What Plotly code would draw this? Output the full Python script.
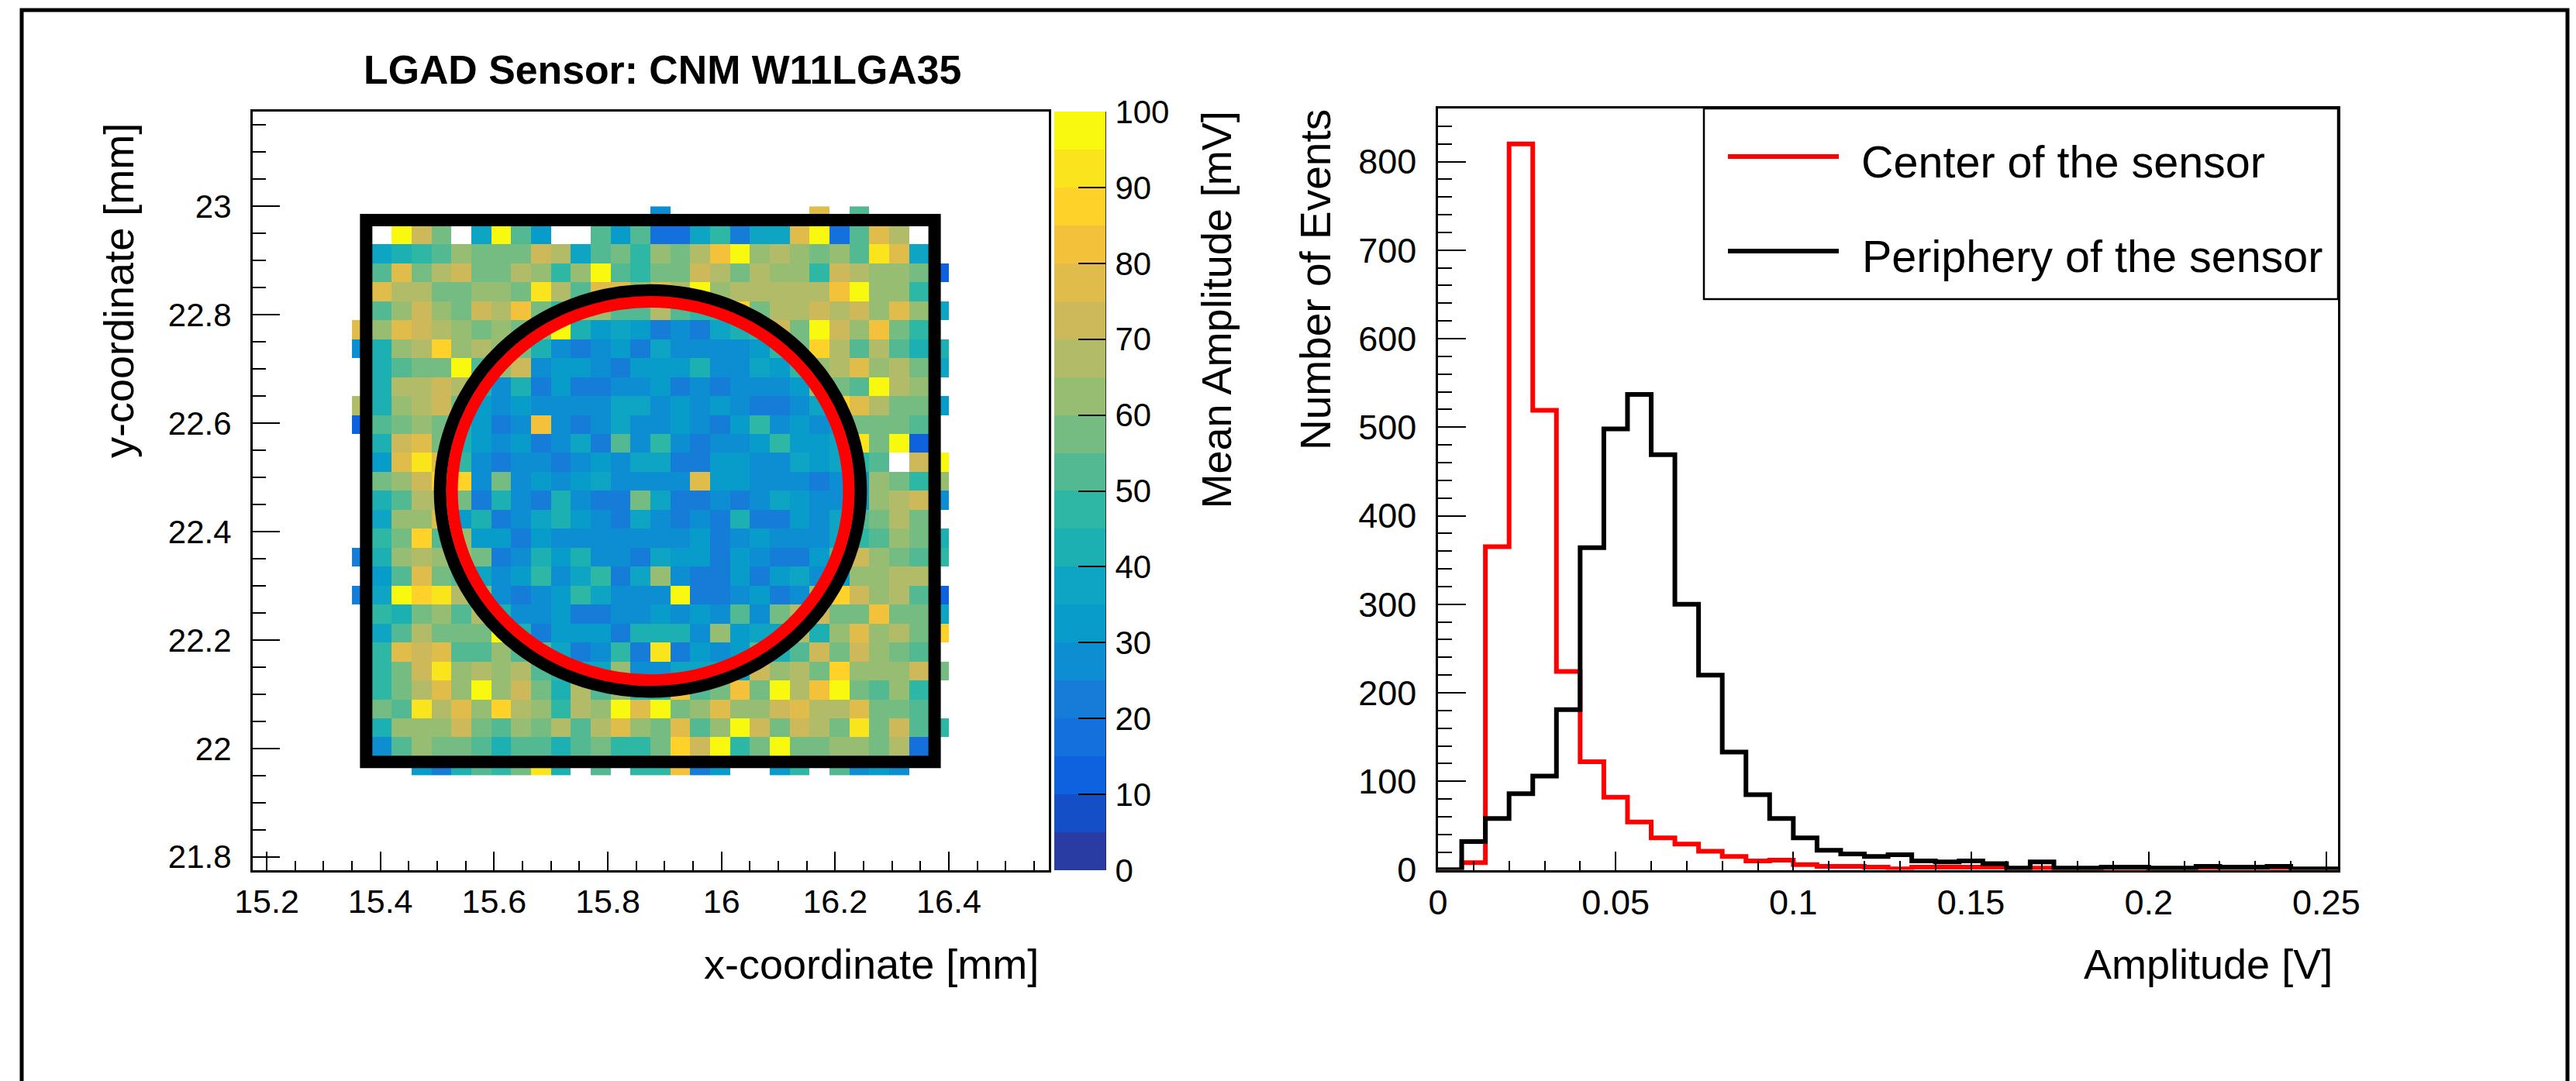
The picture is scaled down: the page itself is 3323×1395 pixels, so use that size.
import plotly.graph_objects as go

W, H = 3323, 1395
N = None

# ---- left panel data: mean amplitude [mV] per cell, top row first
X_EDGE_START, Y_EDGE_TOP, CELL = 15.35, 23.0, 0.035
R00 = [N,N,N,N,N,N,N,N,N,N,N,N,N,N,N,27,N,N,N,N,N,N,N,77,N,52,N,N,N,N]
R01 = [N,N,97,72,57,N,37,97,52,32,N,N,52,32,52,17,17,37,47,22,37,37,77,97,17,52,77,67,N,N]
R02 = [N,37,42,47,52,62,57,57,57,72,67,37,52,57,47,62,57,67,82,97,62,67,62,57,62,52,92,77,37,N]
R03 = [N,52,77,57,67,72,57,57,67,62,47,62,97,52,47,57,57,72,67,57,67,62,62,47,72,67,62,62,57,12]
R04 = [N,77,67,67,57,57,62,62,57,92,67,52,77,77,62,77,67,97,62,67,67,67,67,67,82,97,62,62,47,N]
R05 = [N,52,62,72,62,57,72,67,82,57,47,62,62,52,52,67,52,47,47,87,57,67,67,72,67,72,62,77,62,37]
R06 = [77,62,77,72,67,62,57,62,57,57,97,42,32,37,32,22,27,22,37,42,47,72,57,97,72,62,82,57,47,N]
R07 = [27,42,62,67,87,62,67,62,57,42,27,22,27,32,22,37,27,27,27,27,32,47,57,87,67,52,67,52,42,42]
R08 = [N,42,52,57,57,97,52,62,72,27,32,32,27,22,32,32,32,42,27,27,37,32,47,62,67,77,62,67,57,37]
R09 = [N,42,67,67,72,67,42,27,42,22,32,22,22,27,27,32,22,27,22,27,27,27,32,62,57,52,97,67,62,N]
R10 = [67,42,62,67,72,57,32,27,32,27,27,27,27,37,37,27,32,27,32,27,22,22,27,37,87,77,67,57,57,32]
R11 = [14,52,57,62,57,42,32,22,27,82,27,22,27,37,27,27,32,27,22,32,47,27,32,27,32,57,57,57,52,N]
R12 = [N,42,72,77,57,42,32,27,32,22,27,37,22,52,27,47,27,22,27,27,32,47,32,32,37,92,57,97,12,N]
R13 = [N,32,77,92,77,47,27,22,27,27,22,27,32,27,37,37,22,22,32,32,27,27,37,32,37,47,52,N,72,97]
R14 = [N,57,62,72,87,87,27,57,27,32,27,32,37,27,27,27,27,77,32,32,27,27,27,22,27,32,62,57,47,62]
R15 = [N,42,52,67,67,57,22,42,27,22,42,27,22,22,57,37,22,22,27,22,27,37,32,27,27,32,62,67,72,27]
R16 = [N,37,62,62,77,32,42,22,27,37,42,32,27,22,37,27,22,27,22,42,22,22,32,27,37,52,57,67,57,N]
R17 = [N,47,57,87,52,62,32,32,22,32,27,27,27,27,27,27,27,32,22,27,32,27,27,27,37,47,52,62,57,42]
R18 = [22,42,62,67,62,62,57,22,27,42,32,42,27,27,22,37,32,32,22,32,27,22,22,32,52,72,62,57,52,47]
R19 = [N,32,52,77,57,52,37,27,32,47,27,37,47,22,37,62,27,22,22,32,22,32,37,27,32,62,62,67,67,N]
R20 = [22,37,97,87,92,67,57,27,22,27,32,47,37,27,27,27,97,22,22,27,32,22,27,62,87,72,62,67,52,12]
R21 = [N,47,42,57,62,52,67,42,27,27,32,22,22,27,27,32,27,32,27,52,27,57,67,72,57,57,82,57,57,37]
R22 = [N,37,52,67,57,57,57,97,42,22,32,32,32,22,42,42,42,27,62,32,37,37,67,42,62,77,62,67,57,87]
R23 = [N,47,77,72,77,52,52,62,52,52,37,22,27,47,22,92,22,32,27,32,52,42,52,72,57,72,62,57,52,N]
R24 = [N,47,57,72,92,62,67,62,67,52,47,37,37,62,27,27,37,37,37,37,72,62,67,57,87,62,62,62,72,57]
R25 = [N,47,57,67,77,62,97,62,72,57,42,67,52,62,47,47,82,52,57,82,57,97,67,82,97,57,52,62,47,N]
R26 = [N,57,52,92,67,77,62,87,67,62,47,67,62,97,77,97,57,62,77,62,62,72,77,67,67,77,57,57,52,N]
R27 = [N,42,62,62,62,72,57,52,62,57,67,52,67,77,62,57,77,52,62,97,72,57,72,67,57,92,57,72,52,47]
R28 = [N,27,52,62,57,57,52,42,52,52,42,52,57,47,47,57,87,72,97,47,57,97,57,57,62,62,57,67,17,N]
R29 = [N,N,N,32,22,42,52,47,57,92,42,N,52,N,47,47,82,22,32,N,N,32,47,N,52,27,32,27,N,N]
AMPLITUDE_ROWS = [R00,R01,R02,R03,R04,R05,R06,R07,R08,R09,R10,R11,R12,R13,R14,
                  R15,R16,R17,R18,R19,R20,R21,R22,R23,R24,R25,R26,R27,R28,R29]
assert all(len(r) == 30 for r in AMPLITUDE_ROWS)

PALETTE = ["#283CA3","#154FC8","#0F62DD","#1370DC","#157DD7","#0D8ED2","#089CCB","#0EA5C4",
           "#1DB0B2","#2FB7A6","#52B992","#75BC82","#97BD73","#B2BC68","#CEB95A","#E0BC4A",
           "#F4C23A","#FFD22A","#FAE51C","#F9F90F"]

SQUARE_X, SQUARE_Y = (15.375, 16.375), (21.975, 22.975)
CIRCLE_CX, CIRCLE_CY = 15.875, 22.475
RADIUS_BLACK, RADIUS_RED = 0.37, 0.349

# ---- right panel data: events per bin
BIN_WIDTH = 0.25 / 37.5
CENTER_COUNTS = [0,8,365,820,519,224,122,82,54,36,29,21,15,10,11,6,4,4,3,1,3,3,3,3,0,2,1,0,1,0,1,0,1,1,1,0,0,0]
PERIPHERY_COUNTS = [0,32,58,86,106,181,364,498,537,469,300,220,133,85,58,36,22,18,15,17,10,9,10,7,2,9,2,2,3,3,2,2,4,3,3,4,1,1]
LEGEND_LABELS = ["Center of the sensor", "Periphery of the sensor"]

FONT = "Liberation Sans"
px = lambda x: x / W
py = lambda y: 1 - y / H

x_edges = [X_EDGE_START + CELL * i for i in range(31)]
y_edges = [Y_EDGE_TOP - CELL * i for i in range(31)][::-1]
stops = []
for i, c in enumerate(PALETTE):
    stops += [[i / 20, c], [(i + 1) / 20, c]]

fig = go.Figure()
fig.add_trace(go.Heatmap(
    x=x_edges, y=y_edges, z=AMPLITUDE_ROWS[::-1], zmin=0, zmax=100, colorscale=stops,
    xaxis="x", yaxis="y", hoverongaps=False,
    colorbar=dict(
        x=px(1360), xanchor="left", xpad=0, y=py(144), yanchor="top", ypad=0,
        len=979 / H, lenmode="fraction", thickness=66, thicknessmode="pixels",
        tick0=0, dtick=10, ticks="inside", ticklen=35, tickwidth=2, tickcolor="black",
        tickfont=dict(family=FONT, size=42, color="black"), outlinewidth=0,
        ticklabelposition="outside", tickprefix="\u200a",
    ),
))

edges = [BIN_WIDTH * i for i in range(39)]
for name, vals, col in [(LEGEND_LABELS[0], CENTER_COUNTS, "#FF0000"), (LEGEND_LABELS[1], PERIPHERY_COUNTS, "#000000")]:
    fig.add_trace(go.Scatter(x=edges, y=vals + vals[-1:], mode="lines", name=name, showlegend=False,
                             line=dict(color=col, width=6, shape="hv"), xaxis="x2", yaxis="y2",
                             cliponaxis=False))

shapes = [
    dict(type="rect", xref="x", yref="y", x0=SQUARE_X[0], x1=SQUARE_X[1], y0=SQUARE_Y[0], y1=SQUARE_Y[1],
         line=dict(color="black", width=16)),
    dict(type="circle", xref="x", yref="y", x0=CIRCLE_CX - RADIUS_BLACK, x1=CIRCLE_CX + RADIUS_BLACK,
         y0=CIRCLE_CY - RADIUS_BLACK, y1=CIRCLE_CY + RADIUS_BLACK, line=dict(color="black", width=16)),
    dict(type="circle", xref="x", yref="y", x0=CIRCLE_CX - RADIUS_RED, x1=CIRCLE_CX + RADIUS_RED,
         y0=CIRCLE_CY - RADIUS_RED, y1=CIRCLE_CY + RADIUS_RED, line=dict(color="#FF0000", width=15)),
    # page frame
    dict(type="path", xref="paper", yref="paper", line=dict(color="black", width=5),
         path=f"M {px(28)} {py(1400)} L {px(28)} {py(13)} L {px(3312)} {py(13)} L {px(3312)} {py(1400)}"),
    # colour bar right edge
    dict(type="line", xref="paper", yref="paper", x0=px(1426), x1=px(1426), y0=py(1123), y1=py(144),
         line=dict(color="#333333", width=2)),
    # legend box and samples
    dict(type="rect", xref="paper", yref="paper", x0=px(2198), x1=px(3016), y0=py(386), y1=py(140),
         line=dict(color="black", width=2.5)),
    dict(type="line", xref="paper", yref="paper", x0=px(2229), x1=px(2372), y0=py(202), y1=py(202),
         line=dict(color="#FF0000", width=6)),
    dict(type="line", xref="paper", yref="paper", x0=px(2229), x1=px(2372), y0=py(324), y1=py(324),
         line=dict(color="black", width=6)),
]

def note(text, x, y, size, xanchor="left", yanchor="middle", angle=0, bold=False):
    return dict(text=f"<b>{text}</b>" if bold else text, xref="paper", yref="paper", x=px(x), y=py(y),
                xanchor=xanchor, yanchor=yanchor, textangle=angle, showarrow=False, borderpad=0,
                font=dict(family=FONT, size=size, color="black"))

annotations = [
    note("LGAD Sensor: CNM W11LGA35", 468, 90, 51.8, bold=True),
    note("x-coordinate [mm]", 1341, 1244, 54, xanchor="right"),
    note("y-coordinate [mm]", 153, 158, 54, xanchor="center", yanchor="top", angle=-90),
    note("Mean Amplitude [mV]", 1568, 143, 54, xanchor="center", yanchor="top", angle=-90),
    note("Number of Events", 1697, 140, 55, xanchor="center", yanchor="top", angle=-90),
    note("Amplitude [V]", 3010, 1244, 54, xanchor="right"),
    note(LEGEND_LABELS[0], 2400, 209, 57.5),
    note(LEGEND_LABELS[1], 2401, 331, 57.5),
]

def axis(domain, rng, tick0, dtick, mtick, major, minor, size, standoff, **kw):
    return dict(domain=domain, range=rng, tick0=tick0, dtick=dtick, ticks="inside", ticklen=major, tickwidth=2,
                tickcolor="black", showgrid=False, zeroline=False, showline=True, linecolor="black", linewidth=2.5,
                mirror=True, tickfont=dict(family=FONT, size=size, color="black"), ticklabelstandoff=standoff,
                minor=dict(tick0=tick0, dtick=mtick, ticks="inside", ticklen=minor, tickwidth=2, tickcolor="black",
                           showgrid=False), **kw)

fig.update_layout(
    width=W, height=H, margin=dict(l=0, r=0, t=0, b=0, autoexpand=False), autosize=False,
    paper_bgcolor="white", plot_bgcolor="white", showlegend=False,
    shapes=shapes, annotations=annotations,
    xaxis=axis([px(325.7), px(1353)], [15.175, 16.576], 15.2, 0.2, 0.05, 24, 12, 43, 1, anchor="y"),
    yaxis=axis([py(1122.5), py(144)], [21.776, 23.175], 21.8, 0.2, 0.05, 36, 18, 42, 16, anchor="x"),
    xaxis2=axis([px(1855), px(3016)], [0, 0.2533], 0, 0.05, 0.01, 24, 12, 45, 1, anchor="y2"),
    yaxis2=axis([py(1122.5), py(140)], [0, 860], 0, 100, 20, 36, 18, 45, 16, anchor="x2"),
)

fig.write_html("out.html", post_script="document.body.style.margin='0';",
               config={"displayModeBar": False})
